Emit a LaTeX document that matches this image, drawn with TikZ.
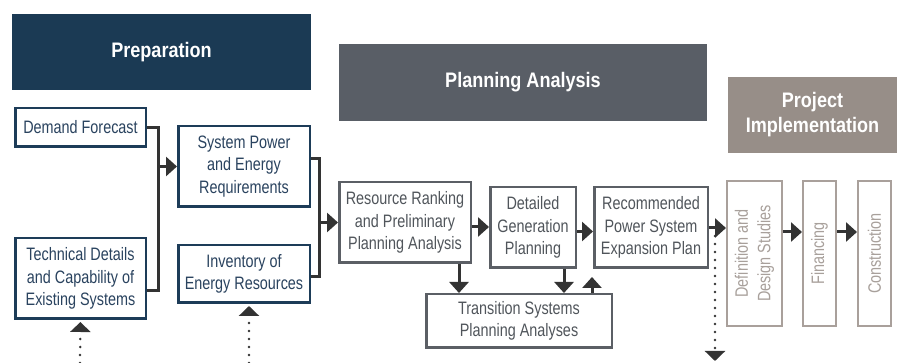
\documentclass[tikz,border=0pt]{standalone}
\usepackage{fontspec}
\setmainfont{Liberation Sans}[FakeStretch=0.80]
\newfontfamily\hdfont{Liberation Sans}[FakeStretch=0.86]
\usetikzlibrary{arrows.meta,calc}
\definecolor{prepc}{HTML}{1B3A54}
\definecolor{planc}{HTML}{595E66}
\definecolor{projc}{HTML}{978E88}
\definecolor{blueb}{HTML}{1D3C58}
\definecolor{bluet}{HTML}{2A435F}
\definecolor{grayb}{HTML}{5B5F65}
\definecolor{grayt}{HTML}{50555B}
\definecolor{lightb}{HTML}{A9A09B}
\definecolor{lightt}{HTML}{A8A09B}
\definecolor{arrowc}{HTML}{333333}
\begin{document}
\begin{tikzpicture}[x=1pt,y=-1pt,
  every node/.style={inner sep=0pt, align=center, font=\fontsize{18}{22.5}\selectfont},
  header/.style={text=white, font=\hdfont\fontsize{21}{25}\selectfont\bfseries},
  bluebox/.style={draw=blueb, line width=2.5pt, fill=white, text=bluet},
  graybox/.style={draw=grayb, line width=2.5pt, fill=white, text=grayt},
  lightbox/.style={draw=lightb, line width=2pt, fill=white},
  conn/.style={draw=arrowc, line width=3pt},
  arr/.style={conn, -{Triangle[length=11pt,width=19pt]}},
  dotarr/.style={draw=arrowc, line width=2.8pt, line cap=round, dash pattern=on 0pt off 8pt,
                 -{Triangle[length=10pt,width=20pt]}}
]
\useasboundingbox (0,0) rectangle (898,363);

% headers
\node[header, fill=prepc, minimum width=299pt, minimum height=76pt] (prep) at (161.5,52) {Preparation};
\node[header, fill=planc, minimum width=368pt, minimum height=77pt] (plan) at (523,82.5) {Planning Analysis};
\node[header, fill=projc, minimum width=169pt, minimum height=76pt] (proj) at (812.5,115) {Project\\Implementation};

% preparation boxes
\node[bluebox, minimum width=130.5pt, minimum height=38.5pt] (df) at (80.5,127.5) {Demand Forecast};
\node[bluebox, minimum width=130.5pt, minimum height=80.5pt] (td) at (80.5,278.5) {Technical Details\\and Capability of\\Existing Systems};
\node[bluebox, minimum width=131.5pt, minimum height=80.5pt] (sp) at (244,166.5) {System Power\\and Energy\\Requirements};
\node[bluebox, minimum width=131.5pt, minimum height=57.5pt] (inv) at (244,274) {Inventory of\\Energy Resources};

% planning boxes
\node[graybox, minimum width=131.5pt, minimum height=80.5pt] (rr) at (405,222.5) {Resource Ranking\\and Preliminary\\Planning Analysis};
\node[graybox, minimum width=85.5pt, minimum height=80.5pt] (dg) at (533,227.5) {Detailed\\Generation\\Planning};
\node[graybox, minimum width=113.5pt, minimum height=80.5pt] (rec) at (651,227.5) {Recommended\\Power System\\Expansion Plan};
\node[graybox, minimum width=185.5pt, minimum height=53.5pt] (tr) at (519,321) {Transition Systems\\Planning Analyses};

% implementation boxes
\node[lightbox, minimum width=55pt, minimum height=145pt] (def) at (754.5,253.5) {};
\node[lightbox, minimum width=33pt, minimum height=145pt] (fin) at (819.5,253.5) {};
\node[lightbox, minimum width=33pt, minimum height=145pt] (con) at (874.5,253.5) {};
\node[text=lightt, rotate=90] (deft) at (def.center) {Definition and\\Design Studies};
\node[text=lightt, rotate=90] (fint) at (fin.center) {Financing};
\node[text=lightt, rotate=90] (cont) at (con.center) {Construction};

% left joins
\coordinate (v1a) at (158,127.5);
\coordinate (v1b) at (158,291);
\draw[conn] (df.east) -- (v1a) -- (v1b) -- (td.east |- v1b);
\draw[arr] (v1a |- sp.west) -- (sp.west);

\coordinate (v2a) at (319,159);
\coordinate (v2b) at (319,277);
\draw[conn] (sp.east |- v2a) -- (v2a) -- (v2b) -- (inv.east |- v2b);
\draw[arr] (v2a |- rr.west) -- (rr.west);

% planning arrows
\coordinate (h1) at (0,227);
\draw[arr] (rr.east |- h1) -- (dg.west |- h1);
\coordinate (h2) at (0,231.5);
\draw[arr] (dg.east |- h2) -- (rec.west |- h2);
\coordinate (d1) at (459,0);
\draw[arr] (rr.south -| d1) -- (tr.north -| d1);
\coordinate (d2) at (564,0);
\draw[arr] (dg.south -| d2) -- (tr.north -| d2);
\coordinate (u1) at (592,277);
\draw[arr] (tr.north -| u1) -- (u1);

% implementation arrows
\coordinate (h3) at (0,228);
\draw[arr] (rec.east |- h3) -- (def.west |- h3);
\coordinate (h4) at (0,232);
\draw[arr] (def.east |- h4) -- (fin.west |- h4);
\draw[arr] (fin.east |- h4) -- (con.west |- h4);

% dotted arrows
\coordinate (b1) at (80,363);
\draw[dotarr, shorten >=2pt] (b1) -- (td.south);
\coordinate (b2) at (249,363);
\draw[dotarr, shorten >=2pt] (b2) -- (inv.south -| b2);
\coordinate (ds) at (715,236);
\coordinate (de) at (715,361);
\draw[dotarr] (ds) -- (de);
\end{tikzpicture}
\end{document}
